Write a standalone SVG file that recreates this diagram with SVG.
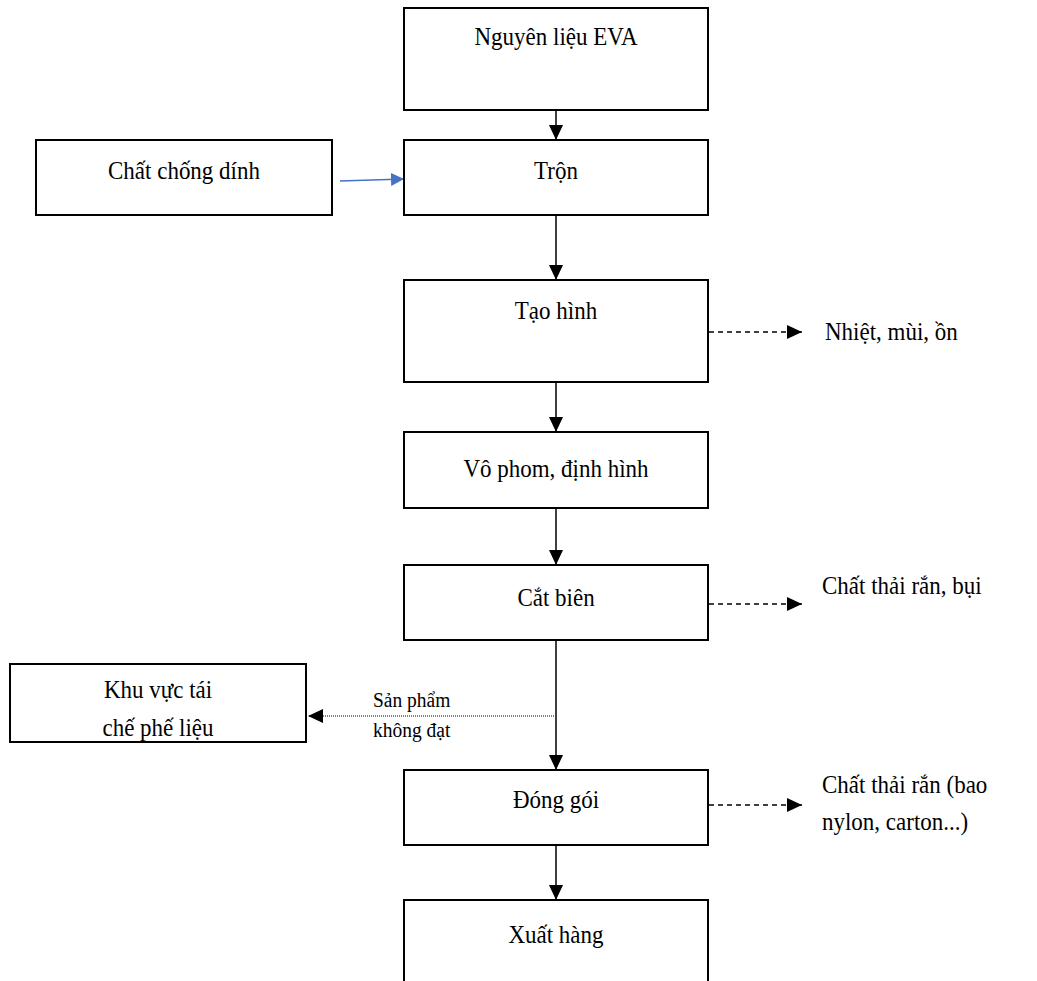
<svg xmlns="http://www.w3.org/2000/svg" width="1037" height="981" viewBox="0 0 1037 981">
  <style>
    .box { fill: #ffffff; stroke: #000000; stroke-width: 2; }
    .lbl { font-family: "Liberation Serif", "Times New Roman", serif; font-size: 23px; fill: #000000; }
    .small { font-family: "Liberation Serif", "Times New Roman", serif; font-size: 19.5px; fill: #000000; }
    .mid { text-anchor: middle; }
    .flow { stroke: #000000; stroke-width: 1.5; fill: none; }
    .dash { stroke: #000000; stroke-width: 1.5; fill: none; stroke-dasharray: 5 4; }
    .dot { stroke: #000000; stroke-width: 1.2; fill: none; stroke-dasharray: 1 1; }
    .blue { stroke: #4472c4; stroke-width: 1.5; fill: none; }
  </style>
  <defs>
    <marker id="arrowV" viewBox="0 0 10 10" refX="10" refY="5" markerWidth="15" markerHeight="14" markerUnits="userSpaceOnUse" orient="auto" preserveAspectRatio="none">
      <path d="M0,0 L10,5 L0,10 Z" fill="#000000"/>
    </marker>
    <marker id="arrowBlue" viewBox="0 0 10 10" refX="10" refY="5" markerWidth="13" markerHeight="13" markerUnits="userSpaceOnUse" orient="auto" preserveAspectRatio="none">
      <path d="M0,0 L10,5 L0,10 Z" fill="#4472c4"/>
    </marker>
  </defs>

  <rect width="1037" height="981" fill="#ffffff"/>

  <!-- connectors -->
  <g id="connectors">
    <line class="flow" x1="556" y1="110" x2="556" y2="140" marker-end="url(#arrowV)"/>
    <line class="blue" x1="340" y1="181" x2="404" y2="179" marker-end="url(#arrowBlue)"/>
    <line class="flow" x1="556" y1="215" x2="556" y2="280" marker-end="url(#arrowV)"/>
    <line class="flow" x1="556" y1="382" x2="556" y2="432" marker-end="url(#arrowV)"/>
    <line class="flow" x1="556" y1="508" x2="556" y2="565" marker-end="url(#arrowV)"/>
    <line class="flow" x1="556" y1="640" x2="556" y2="770" marker-end="url(#arrowV)"/>
    <line class="flow" x1="556" y1="845" x2="556" y2="900" marker-end="url(#arrowV)"/>
    <line class="dash" x1="709" y1="332" x2="802" y2="332" marker-end="url(#arrowV)"/>
    <line class="dash" x1="709" y1="604" x2="802" y2="604" marker-end="url(#arrowV)"/>
    <line class="dash" x1="709" y1="805" x2="802" y2="805" marker-end="url(#arrowV)"/>
    <line class="dot" x1="554" y1="716" x2="308" y2="716" marker-end="url(#arrowV)"/>
    <text class="small" transform="translate(373,707) scale(1,1.12)">Sản phẩm</text>
    <text class="small" transform="translate(373,737) scale(1,1.12)">không đạt</text>
  </g>

  <!-- process steps (labels are drawn slightly tall: scale 1 x 1.12) -->
  <g id="node-nguyen-lieu">
    <rect class="box" x="404" y="8" width="304" height="102"/>
    <text class="lbl mid" transform="translate(556,45) scale(1,1.12)">Nguyên liệu EVA</text>
  </g>
  <g id="node-chong-dinh">
    <rect class="box" x="36" y="140" width="296" height="75"/>
    <text class="lbl mid" transform="translate(184,179) scale(1,1.12)">Chất chống dính</text>
  </g>
  <g id="node-tron">
    <rect class="box" x="404" y="140" width="304" height="75"/>
    <text class="lbl mid" transform="translate(556,179) scale(1,1.12)">Trộn</text>
  </g>
  <g id="node-tao-hinh">
    <rect class="box" x="404" y="280" width="304" height="102"/>
    <text class="lbl mid" transform="translate(556,319) scale(1,1.12)">Tạo hình</text>
  </g>
  <g id="node-vo-phom">
    <rect class="box" x="404" y="432" width="304" height="76"/>
    <text class="lbl mid" transform="translate(556,477) scale(1,1.12)">Vô phom, định hình</text>
  </g>
  <g id="node-cat-bien">
    <rect class="box" x="404" y="565" width="304" height="75"/>
    <text class="lbl mid" transform="translate(556,606) scale(1,1.12)">Cắt biên</text>
  </g>
  <g id="node-tai-che">
    <rect class="box" x="10" y="664" width="296" height="78"/>
    <text class="lbl mid" transform="translate(158,698) scale(1,1.12)">Khu vực tái</text>
    <text class="lbl mid" transform="translate(158,736) scale(1,1.12)">chế phế liệu</text>
  </g>
  <g id="node-dong-goi">
    <rect class="box" x="404" y="770" width="304" height="75"/>
    <text class="lbl mid" transform="translate(556,808) scale(1,1.12)">Đóng gói</text>
  </g>
  <g id="node-xuat-hang">
    <rect class="box" x="404" y="900" width="304" height="90"/>
    <text class="lbl mid" transform="translate(556,943) scale(1,1.12)">Xuất hàng</text>
  </g>

  <!-- emissions -->
  <g id="out-tao-hinh">
    <text class="lbl" transform="translate(825,340) scale(1,1.12)">Nhiệt, mùi, ồn</text>
  </g>
  <g id="out-cat-bien">
    <text class="lbl" transform="translate(822,594) scale(1,1.12)">Chất thải rắn, bụi</text>
  </g>
  <g id="out-dong-goi">
    <text class="lbl" transform="translate(822,793) scale(1,1.12)">Chất thải rắn (bao</text>
    <text class="lbl" transform="translate(822,830) scale(1,1.12)">nylon, carton...)</text>
  </g>
</svg>
